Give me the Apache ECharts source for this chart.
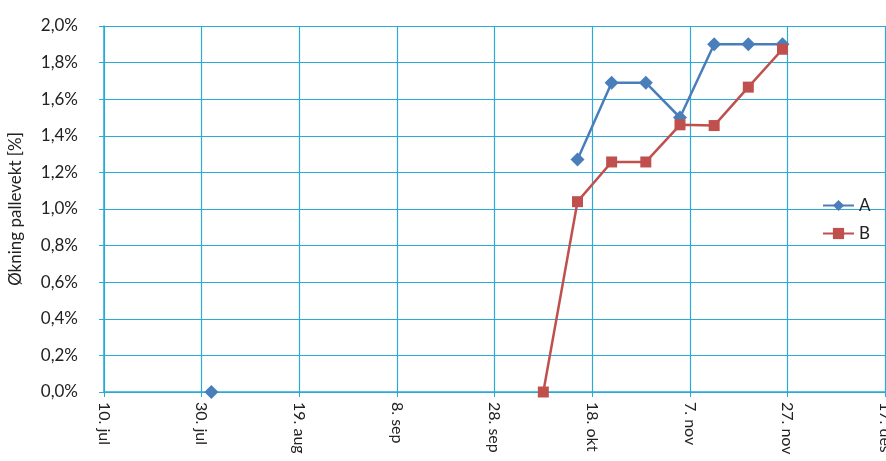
<!DOCTYPE html>
<html>
<head>
<meta charset="utf-8">
<script src="https://cdn.jsdelivr.net/npm/echarts@6/dist/echarts.min.js"></script>
<style>html,body{margin:0;padding:0;background:#fff}#c{width:886px;height:461px}</style>
</head>
<body>
<div id="c"></div>
<script>
// ---- data ----
const startDate = '2012-07-10';
const tickStepDays = 20;
const endDate = '2012-12-17';
const monthNames = ['jan','feb','mar','apr','mai','jun','jul','aug','sep','okt','nov','des'];
const datesA = ['2012-08-01','2012-10-08','2012-10-15','2012-10-22','2012-10-29','2012-11-05','2012-11-12','2012-11-19','2012-11-26'];
const valuesA = [0.0, null, 1.27, 1.69, 1.69, 1.50, 1.90, 1.90, 1.90];
const datesB = ['2012-10-08','2012-10-15','2012-10-22','2012-10-29','2012-11-05','2012-11-12','2012-11-19','2012-11-26'];
const valuesB = [0.0, 1.04, 1.257, 1.257, 1.46, 1.456, 1.666, 1.873];
const yAxisName = 'Økning pallevekt [%]';

const DAY = 86400000;
const t0 = Date.UTC(2012, 6, 10);
function dayOf(s){ const p = s.split('-').map(Number); return Math.round((Date.UTC(p[0], p[1]-1, p[2]) - t0) / DAY); }
function label(d){ const dt = new Date(t0 + d * DAY); return dt.getUTCDate() + '. ' + monthNames[dt.getUTCMonth()]; }
const pairs = (ds, vs) => ds.map((d, i) => [dayOf(d), vs[i] === null ? '-' : vs[i]]);

const gridColor = '#2aaad5';
const font = 'Lato, "Open Sans", sans-serif';

const chart = echarts.init(document.getElementById('c'), null, {renderer: 'canvas'});
chart.setOption({
  animation: false,
  backgroundColor: '#fff',
  grid: {left: 104, right: 1, top: 26, bottom: 69, containLabel: false, outerBoundsMode: 'none'},
  legend: {
    orient: 'vertical', left: 817, top: 192,
    itemWidth: 31, itemHeight: 14, itemGap: 11,
    textStyle: {fontFamily: font, fontSize: 17, color: '#222'},
    data: ['A', 'B']
  },
  xAxis: {
    type: 'value',
    min: dayOf(startDate), max: dayOf(endDate), interval: tickStepDays,
    axisLine: {show: true, lineStyle: {color: gridColor, width: 1.5}},
    axisTick: {show: true, inside: false, length: 5, lineStyle: {color: gridColor}},
    splitLine: {show: true, lineStyle: {color: gridColor, width: 1.2}},
    axisLabel: {
      rotate: -90, margin: 10, fontFamily: font, fontSize: 16, color: '#222',
      hideOverlap: false,
      formatter: v => label(v)
    }
  },
  yAxis: {
    type: 'value', min: 0, max: 2.0, interval: 0.2,
    name: yAxisName, nameLocation: 'middle', nameGap: 80,
    nameTextStyle: {fontFamily: font, fontSize: 17, color: '#222'},
    axisLine: {show: true, lineStyle: {color: gridColor, width: 1.5}},
    axisTick: {show: true, inside: false, length: 5, lineStyle: {color: gridColor}},
    splitLine: {show: true, lineStyle: {color: gridColor, width: 1.2}},
    axisLabel: {
      margin: 26, fontFamily: font, fontSize: 17, color: '#222',
      formatter: v => v.toFixed(1).replace('.', ',') + '%'
    }
  },
  series: [
    {
      name: 'A', type: 'line', data: pairs(datesA, valuesA),
      connectNulls: false, symbol: 'diamond', symbolSize: 14,
      lineStyle: {color: '#4a7ebb', width: 2.5}, itemStyle: {color: '#4a7ebb'}
    },
    {
      name: 'B', type: 'line', data: pairs(datesB, valuesB),
      symbol: 'rect', symbolSize: 11,
      lineStyle: {color: '#c0504d', width: 2.5}, itemStyle: {color: '#c0504d'}
    }
  ]
});
</script>
</body>
</html>
